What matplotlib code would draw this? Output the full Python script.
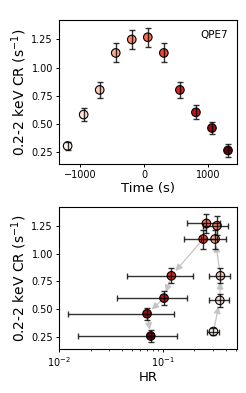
import numpy as np
import matplotlib
matplotlib.use("Agg")
import matplotlib.pyplot as plt

# light curve of QPE7
time = [-1190, -940, -690, -440, -190, 60, 310, 560, 810, 1060, 1310]
rate = [0.30, 0.58, 0.80, 1.13, 1.25, 1.27, 1.13, 0.80, 0.60, 0.46, 0.26]
rate_err = [0.035, 0.06, 0.068, 0.085, 0.085, 0.086, 0.085, 0.068, 0.062, 0.055, 0.056]

# hardness ratio
hr = [0.305, 0.351, 0.356, 0.316, 0.330, 0.261, 0.243, 0.120, 0.102, 0.070, 0.076]
hr_err = [0.04, 0.075, 0.08, 0.085, 0.09, 0.09, 0.085, 0.075, 0.066, 0.058, 0.061]

cols = plt.cm.Reds(np.linspace(0, 1, len(time)))

fig = plt.figure(figsize=(2.46, 3.93), dpi=100)
ax1 = fig.add_axes([0.241, 0.583, 0.721, 0.365])
ax2 = fig.add_axes([0.241, 0.111, 0.721, 0.363])

ax1.scatter(time, rate, s=38, c=cols, edgecolors='k', linewidths=0.8, zorder=3)
ax1.errorbar(time, rate, yerr=rate_err, fmt='none', ecolor='k', elinewidth=1.0,
             capsize=2.2, capthick=1.0, alpha=0.8, zorder=4)

ax2.scatter(hr, rate, s=38, c=cols, edgecolors='k', linewidths=0.8, zorder=3)
ax2.errorbar(hr, rate, xerr=hr_err, yerr=rate_err, fmt='none', ecolor='k',
             elinewidth=1.0, capsize=2.2, capthick=1.0, alpha=0.8, zorder=4)

# arrows between consecutive points
for i in range(len(hr) - 1):
    ax2.annotate('', xy=(hr[i + 1], rate[i + 1]), xytext=(hr[i], rate[i]),
                 arrowprops=dict(arrowstyle='-|>', color='#c4c4c4', lw=0.9,
                                 shrinkA=3, shrinkB=4.5, mutation_scale=10),
                 zorder=2)

ax1.set_ylim(0.14, 1.42)
ax2.set_ylim(0.14, 1.42)
ax1.set_xlim(-1320, 1445)
ax1.set_xticks([-1000, 0, 1000])
ax2.set_xscale('log')
ax2.set_xlim(0.01, 0.51)
ax1.set_yticks([0.25, 0.5, 0.75, 1.0, 1.25])
ax2.set_yticks([0.25, 0.5, 0.75, 1.0, 1.25])

ax1.text(0.95, 0.93, 'QPE7', transform=ax1.transAxes, ha='right', va='top', fontsize=7.5)
ax1.set_xlabel('Time (s)', fontsize=9.5, labelpad=1)
ax1.set_ylabel('0.2-2 keV CR (s$^{-1}$)', fontsize=10, labelpad=2)
ax2.set_xlabel('HR', fontsize=9.5, labelpad=1)
ax2.set_ylabel('0.2-2 keV CR (s$^{-1}$)', fontsize=10, labelpad=2)

for ax in (ax1, ax2):
    ax.tick_params(labelsize=7, length=2.5, width=0.7, pad=2)
    ax.tick_params(which='minor', length=1.5, width=0.5)
    for s in ax.spines.values():
        s.set_linewidth(0.8)

fig.savefig('out.png', dpi=100)
